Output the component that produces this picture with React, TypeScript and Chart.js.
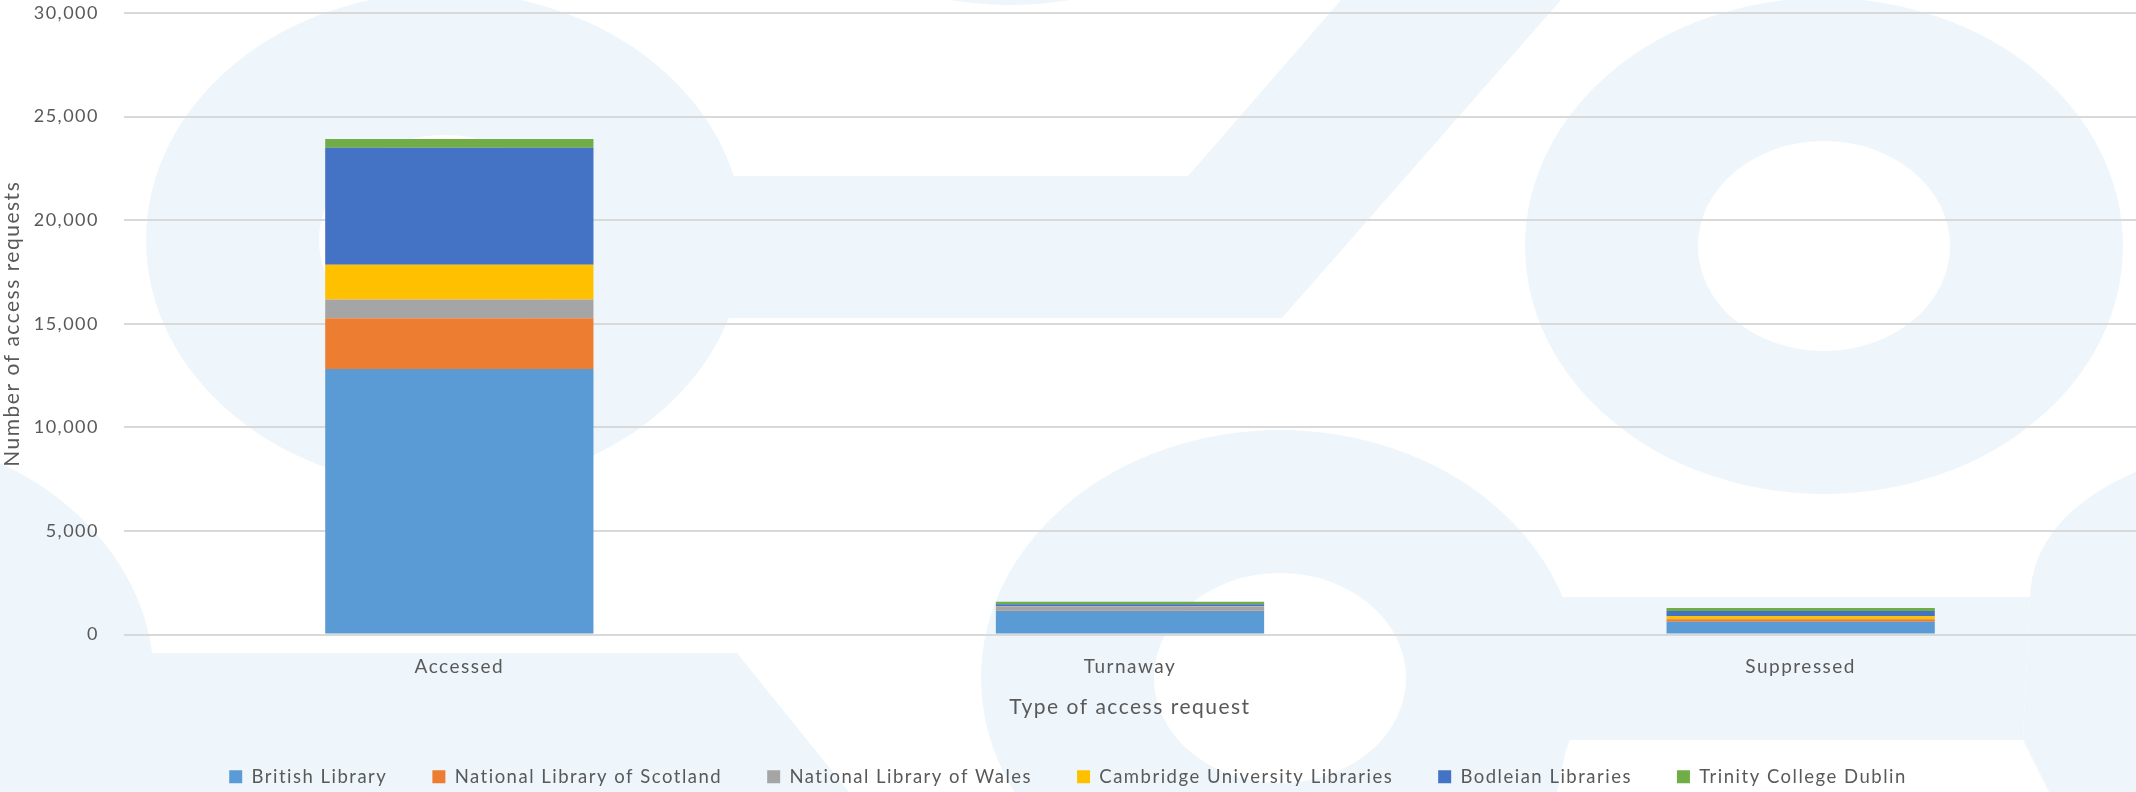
import React, { useEffect, useRef } from 'react';
import { Chart, registerables } from 'chart.js';

Chart.register(...registerables);

// Request types along the x axis
const categories = ['Accessed', 'Turnaway', 'Suppressed'];

// Libraries, one stacked series each
const libraryNames = [
  'British Library',
  'National Library of Scotland',
  'National Library of Wales',
  'Cambridge University Libraries',
  'Bodleian Libraries',
  'Trinity College Dublin',
];

// Access requests per library: [Accessed, Turnaway, Suppressed]
const britishLibrary = [12820, 1130, 620];
const nationalLibraryScotland = [2450, 20, 115];
const nationalLibraryWales = [900, 210, 15];
const cambridgeUniversityLibraries = [1680, 15, 140];
const bodleianLibraries = [5650, 80, 245];
const trinityCollegeDublin = [420, 120, 140];

const seriesValues = [
  britishLibrary,
  nationalLibraryScotland,
  nationalLibraryWales,
  cambridgeUniversityLibraries,
  bodleianLibraries,
  trinityCollegeDublin,
];

const seriesColours = ['#5B9BD5', '#ED7D31', '#A5A5A5', '#FFC000', '#4472C4', '#70AD47'];

// Value axis
const yMin = 0;
const yMax = 30000;
const yStep = 5000;

const textColour = '#595959';
const gridColour = '#D9D9D9';
const fontFamily = 'Lato, "Open Sans", sans-serif';
const letterSpacing = '1.5px';

// Faint logo pattern painted behind the plot (laid out on a 2136 x 792 design grid)
const DESIGN_W = 2136;
const DESIGN_H = 792;
const LOGO_TINT = '#EEF6FC';
const ringCentres: [number, number][] = [
  [445, 240],
  [1824, 246],
  [1280, 678],
  [1010, -243],
  [-145, 680],
];
const RING_RX = 299;
const RING_RY = 248;
const HOLE_RX = 126;
const HOLE_RY = 105;
const logoPolygons: [number, number][][] = [
  [[700, 176], [1188, 176], [1341, 0], [1561, 0], [1282, 318], [700, 318]],
  [[1500, 597], [2030, 597], [2023, 740], [1568, 740], [1557, 792], [1500, 792]],
  [[0, 653], [737, 653], [849, 792], [0, 792]],
];

const logoBackdrop = {
  id: 'logoBackdrop',
  beforeDraw(chart: Chart) {
    const { ctx, width, height } = chart;
    const sx = width / DESIGN_W;
    const sy = height / DESIGN_H;
    ctx.save();
    ctx.fillStyle = LOGO_TINT;
    for (const [cx, cy] of ringCentres) {
      ctx.beginPath();
      ctx.ellipse(cx * sx, cy * sy, RING_RX * sx, RING_RY * sy, 0, 0, Math.PI * 2);
      ctx.ellipse(cx * sx, cy * sy, HOLE_RX * sx, HOLE_RY * sy, 0, 0, Math.PI * 2, true);
      ctx.fill('evenodd');
    }
    for (const poly of logoPolygons) {
      ctx.beginPath();
      poly.forEach(([x, y], i) => (i === 0 ? ctx.moveTo(x * sx, y * sy) : ctx.lineTo(x * sx, y * sy)));
      ctx.closePath();
      ctx.fill();
    }
    // partial ring entering from the right edge
    ctx.beginPath();
    ctx.moveTo(2140 * sx, 470 * sy);
    ctx.quadraticCurveTo(2033 * sx, 515 * sy, 2030 * sx, 597 * sy);
    ctx.lineTo(2023 * sx, 740 * sy);
    ctx.lineTo(2049 * sx, 792 * sy);
    ctx.lineTo(2140 * sx, 792 * sy);
    ctx.closePath();
    ctx.fill();
    ctx.restore();
  },
};

// Slightly tracked-out text, applied whenever the canvas state may have been reset
const textTracking = {
  id: 'textTracking',
  beforeUpdate(chart: Chart) {
    (chart.ctx as any).letterSpacing = letterSpacing;
  },
  beforeLayout(chart: Chart) {
    (chart.ctx as any).letterSpacing = letterSpacing;
  },
  beforeDraw(chart: Chart) {
    (chart.ctx as any).letterSpacing = letterSpacing;
  },
};

export default function App() {
  const canvasRef = useRef<HTMLCanvasElement>(null);

  useEffect(() => {
    if (!canvasRef.current) return;
    const chart = new Chart(canvasRef.current, {
      type: 'bar',
      data: {
        labels: categories,
        datasets: libraryNames.map((name, i) => ({
          label: name,
          data: seriesValues[i],
          backgroundColor: seriesColours[i],
          borderWidth: 0,
          categoryPercentage: 0.4,
          barPercentage: 1,
        })),
      },
      options: {
        animation: false,
        responsive: true,
        maintainAspectRatio: false,
        layout: { padding: { top: 13, left: 0, right: 0, bottom: -4 } },
        plugins: {
          tooltip: { enabled: false },
          legend: {
            position: 'bottom',
            labels: {
              boxWidth: 13,
              boxHeight: 13,
              padding: 45,
              color: textColour,
              font: { family: fontFamily, size: 18.5 },
            },
          },
        },
        scales: {
          x: {
            stacked: true,
            grid: { display: false, drawTicks: false },
            border: { display: false },
            ticks: { color: textColour, padding: 21, font: { family: fontFamily, size: 19 } },
            title: {
              display: true,
              text: 'Type of access request',
              color: textColour,
              padding: { top: 0, bottom: 3 },
              font: { family: fontFamily, size: 21 },
            },
            afterFit: (scale: any) => {
              scale.height = 88;
            },
          },
          y: {
            stacked: true,
            min: yMin,
            max: yMax,
            grid: { color: gridColour, lineWidth: 2, drawTicks: false },
            border: { display: false },
            ticks: {
              stepSize: yStep,
              padding: 25,
              color: textColour,
              font: { family: fontFamily, size: 18 },
              callback: (v: any) => Number(v).toLocaleString('en-US'),
            },
            title: {
              display: true,
              text: 'Number of access requests',
              color: textColour,
              padding: { top: 0, bottom: 0 },
              font: { family: fontFamily, size: 21 },
            },
            afterFit: (scale: any) => {
              scale.width = 124;
              scale.paddingTop = 0;
              scale.paddingBottom = 0;
            },
          },
        },
      },
      plugins: [textTracking, logoBackdrop],
    });
    return () => chart.destroy();
  }, []);

  return (
    <div style={{ position: 'fixed', left: 0, top: 0, width: '100vw', height: '100vh', background: '#fff' }}>
      <canvas ref={canvasRef} />
    </div>
  );
}
